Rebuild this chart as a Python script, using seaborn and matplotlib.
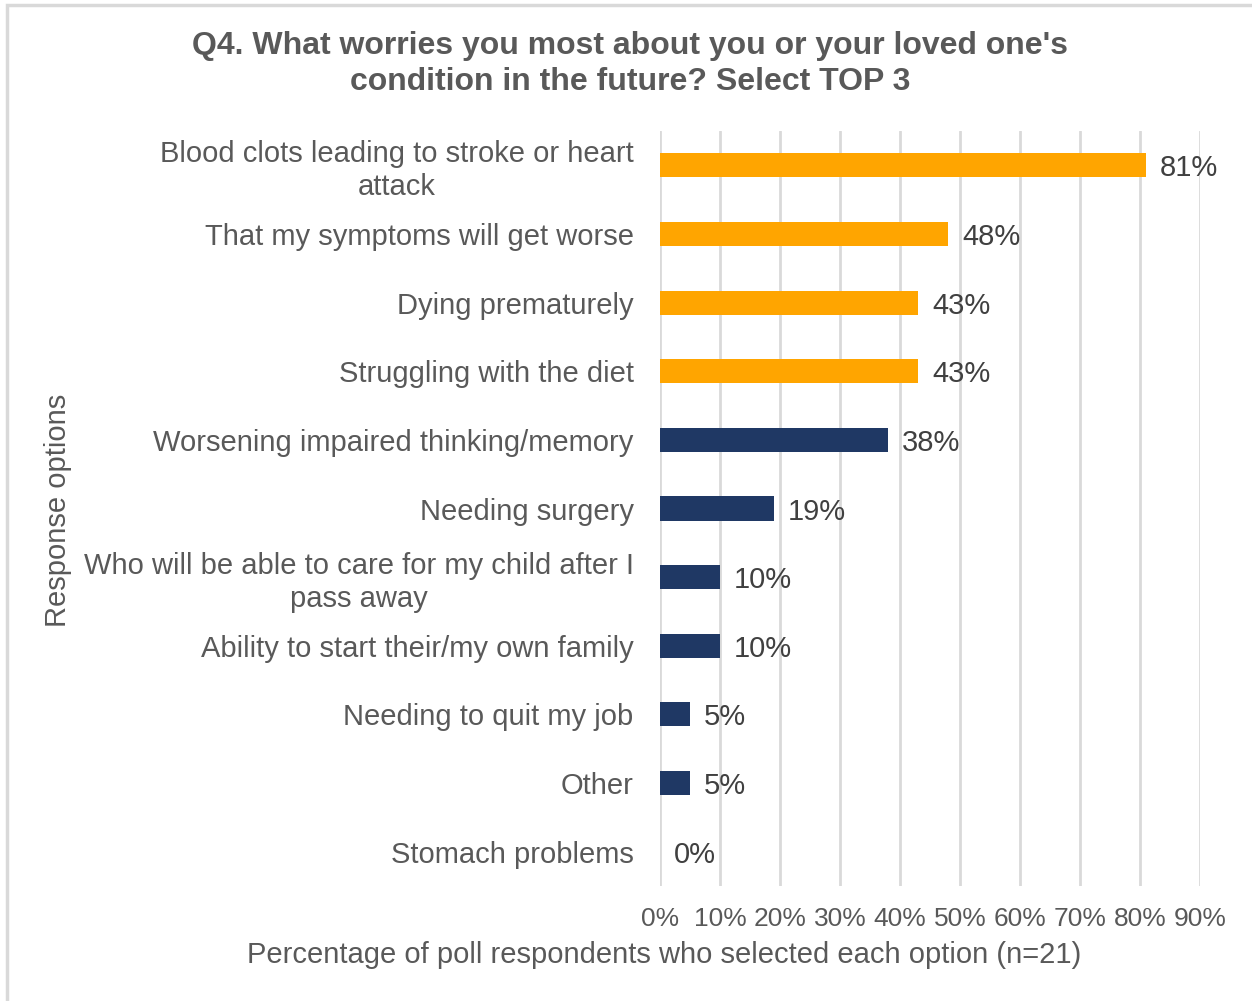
import matplotlib
matplotlib.use("Agg")
import matplotlib.pyplot as plt
from matplotlib.patches import Rectangle
import seaborn as sns
import pandas as pd

categories = [
    "Blood clots leading to stroke or heart\nattack",
    "That my symptoms will get worse",
    "Dying prematurely",
    "Struggling with the diet",
    "Worsening impaired thinking/memory",
    "Needing surgery",
    "Who will be able to care for my child after I\npass away",
    "Ability to start their/my own family",
    "Needing to quit my job",
    "Other",
    "Stomach problems",
]
values = [0.81, 0.48, 0.43, 0.43, 0.38, 0.19, 0.10, 0.10, 0.05, 0.05, 0.00]
value_labels = ["81%", "48%", "43%", "43%", "38%", "19%", "10%", "10%", "5%", "5%", "0%"]
bar_colors = ["#FFA500"] * 4 + ["#1F3864"] * 7
x_ticks = [0.0, 0.1, 0.2, 0.3, 0.4, 0.5, 0.6, 0.7, 0.8, 0.9]
x_tick_labels = ["0%", "10%", "20%", "30%", "40%", "50%", "60%", "70%", "80%", "90%"]

title = "Q4. What worries you most about you or your loved one's\ncondition in the future? Select TOP 3"
x_label = "Percentage of poll respondents who selected each option (n=21)"
y_label = "Response options"

sns.set_theme(style="white")
plt.rcParams["font.family"] = ["Liberation Sans", "DejaVu Sans"]

TEXT = "#595959"
VALUE_TEXT = "#404040"
GRID = "#D9D9D9"

df = pd.DataFrame({"option": categories, "share": values})

fig = plt.figure(figsize=(12.52, 10.01), dpi=100)
fig.patch.set_facecolor("white")
ax = fig.add_axes([660 / 1252, 1 - 886 / 1001, 540 / 1252, 755 / 1001])

sns.barplot(
    data=df, x="share", y="option", hue="option",
    palette=bar_colors, legend=False, width=0.35,
    saturation=1, linewidth=0, ax=ax, orient="h",
)

ax.set_xlim(0, 0.9)
ax.set_xticks(x_ticks)
ax.set_xticklabels(x_tick_labels, fontsize=19, color=TEXT)
ax.tick_params(axis="x", length=0, pad=15)
ax.tick_params(axis="y", length=0, pad=19)
for lbl in ax.get_yticklabels():
    lbl.set_fontsize(21)
    lbl.set_color(TEXT)
    lbl.set_multialignment("center")

ax.grid(axis="x", color=GRID, linewidth=2)
ax.set_axisbelow(True)
for s in ax.spines.values():
    s.set_visible(False)

for i, (v, t) in enumerate(zip(values, value_labels)):
    ax.annotate(t, xy=(v, i), xytext=(10, 0), textcoords="offset points",
                va="center_baseline", ha="left", fontsize=21, color=VALUE_TEXT)

ax.set_xlabel("")
ax.set_ylabel("")
fig.text(664 / 1252, 1 - 955 / 1001, x_label, ha="center", va="center",
         fontsize=21, color=TEXT)
fig.text(58 / 1252, 1 - 510 / 1001, y_label, ha="center", va="center",
         rotation=90, fontsize=21, color=TEXT)
fig.text(630 / 1252, 1 - 64 / 1001, title, ha="center", va="center",
         fontsize=23, fontweight="bold", color=TEXT, linespacing=1.3)

# light frame around the chart area
fig.patches.append(Rectangle((7 / 1252, -0.05), 1.2, 1.05 - 5 / 1001,
                             transform=fig.transFigure, fill=False,
                             edgecolor=GRID, linewidth=2.5, zorder=0))

fig.savefig("out.png", dpi=100, facecolor="white")
